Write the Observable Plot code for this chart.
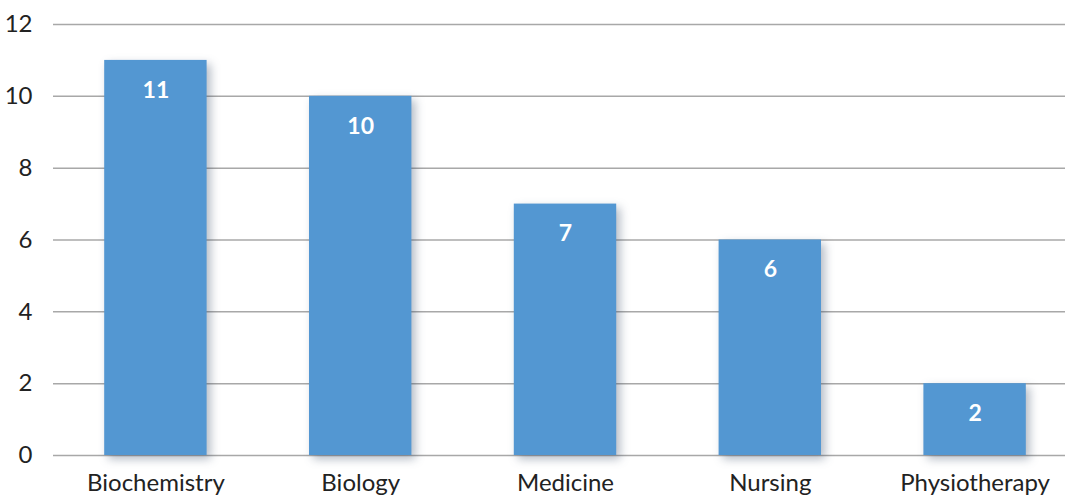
<!DOCTYPE html>
<html>
<head>
<meta charset="utf-8">
<script src="https://cdn.jsdelivr.net/npm/d3@7"></script>
<script src="https://cdn.jsdelivr.net/npm/@observablehq/plot@0.6"></script>
<style>
  html, body { margin: 0; padding: 0; background: #fff; }
  #chart svg { display: block; }
</style>
</head>
<body>
<div id="chart"></div>
<script>
const categories = ["Biochemistry", "Biology", "Medicine", "Nursing", "Physiotherapy"];
const values = [11, 10, 7, 6, 2];
const yTicks = [0, 2, 4, 6, 8, 10, 12];

const data = categories.map((c, i) => ({category: c, value: values[i]}));

const chart = Plot.plot({
  width: 1065,
  height: 497,
  marginTop: 24,
  marginBottom: 42,
  marginLeft: 53,
  marginRight: 0,
  style: {fontFamily: "Lato, 'Open Sans', sans-serif", fontSize: "24px", color: "#222", background: "#fff"},
  x: {domain: categories, range: [53, 1077], round: false, paddingInner: 0.5, paddingOuter: 0.25, label: null, tickSize: 0, tickPadding: 18},
  y: {domain: [0, 12], ticks: yTicks, label: null, tickSize: 0, tickPadding: 21},
  marks: [
    Plot.ruleY(yTicks, {stroke: "#a8a8a8", strokeWidth: 1.5}),
    Plot.barY(data, {x: "category", y: "value", fill: "#5397d2"}),
    Plot.text(data, {x: "category", y: "value", text: d => String(d.value), dy: 30, fill: "#fff", fontWeight: "bold", fontSize: 23})
  ]
});

d3.select(chart).selectAll("g[aria-label='bar'] rect")
  .style("filter", "drop-shadow(4px 4px 5px rgba(40,60,90,0.35))");

document.getElementById("chart").appendChild(chart);
</script>
</body>
</html>
